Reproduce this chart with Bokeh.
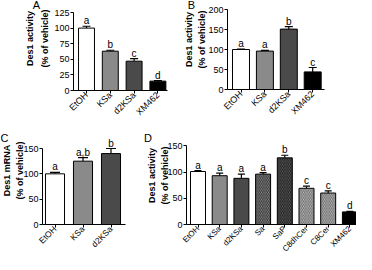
import math
from bokeh.plotting import figure
from bokeh.layouts import column, row
from bokeh.models import (ColumnDataSource, Whisker, TeeHead, Label, LabelSet,
                          FixedTicker, Range1d, LinearAxis)
from bokeh.core.properties import value
from bokeh.embed import file_html
from bokeh.resources import INLINE

FONT = "Liberation Sans"

# ---- data ----
a_cats = ["EtOH", "KSa", "d2KSa", "XM462"]
a_vals = [100, 63, 47, 15]
a_errs = [3, 1.5, 4, 1]
a_sig = ["a", "b", "c", "d"]

b_cats = ["EtOH", "KSa", "d2KSa", "XM462"]
b_vals = [100, 96, 151, 44]
b_errs = [1, 2, 6, 11]
b_sig = ["a", "a", "b", "c"]

c_cats = ["EtOH", "KSa", "d2KSa"]
c_vals = [100, 125, 140]
c_errs = [3, 7, 10]
c_sig = ["a", "a,b", "b"]

d_cats = ["EtOH", "KSa", "d2KSa", "Sa", "SaP", "C8dhCer", "C8Cer", "XM462"]
d_vals = [101, 93, 88, 96, 127, 69, 60, 24]
d_errs = [1.5, 5, 8, 3, 5, 4, 4, 1]
d_sig = ["a", "a", "a", "a", "b", "c", "c", "d"]

a_yticks = [0, 25, 50, 75, 100, 125]
b_yticks = [0, 50, 100, 150, 200]
c_yticks = [0, 50, 100, 150]
d_yticks = [0, 50, 100, 150]

ylab_activity = ["Des1 activity", "(% of vehicle)"]
ylab_mrna = ["Des1 mRNA", "(% of vehicle)"]

# ---- styles ----
base_fill = {"EtOH": "white", "KSa": "#8a8a8a", "d2KSa": "#4a4a4a", "XM462": "black",
             "Sa": "#9a9a9a", "SaP": "#6a6a6a", "C8dhCer": "#c8c8c8", "C8Cer": "#c8c8c8"}
hatch_pat = {"Sa": "\\", "SaP": "\\", "C8dhCer": "\\", "C8Cer": "\\"}
hatch_col = {"Sa": "#303030", "SaP": "#1a1a1a", "C8dhCer": "#6a6a6a", "C8Cer": "#6a6a6a"}


def panel(cats, vals, errs, sig, origin, w, h, axis_px, zero_py, top_py, yticks,
          c0_px, step_px, xend_px, bar_frac, cap, letter, letter_px, ylab, ylab_px,
          xlab_size="9px"):
    """All pixel positions are page (reference) pixels; origin = figure top-left."""
    ox, oy = origin
    ymax = yticks[-1]
    k = (zero_py - top_py) / ymax          # px per unit
    zl = zero_py - oy                       # local py of y=0
    c0 = c0_px - ox
    xr = Range1d((0 - c0) / step_px, (w - c0) / step_px)
    yr = Range1d((zl - h) / k, zl / k)
    p = figure(width=w, height=h, output_backend="svg", toolbar_location=None,
               x_range=xr, y_range=yr, x_axis_location=None, y_axis_location=None,
               min_border_left=0, min_border_right=0, min_border_top=0,
               min_border_bottom=0)
    p.outline_line_color = None
    p.grid.visible = False
    p.background_fill_color = "white"
    p.border_fill_color = "white"

    x = list(range(len(cats)))
    upper = [v + e for v, e in zip(vals, errs)]
    src = ColumnDataSource(dict(
        x=x, top=vals, upper=upper, sig=sig,
        fill=[base_fill[c] for c in cats],
        hatch=[hatch_pat.get(c, " ") for c in cats],
        hcol=[hatch_col.get(c, "black") for c in cats]))
    p.vbar(x="x", top="top", bottom=0, width=bar_frac, source=src,
           fill_color="fill", line_color="black", line_width=1,
           hatch_pattern="hatch", hatch_color="hcol", hatch_scale=3.5,
           hatch_weight=1)
    p.add_layout(Whisker(base="x", lower="top", upper="upper", source=src,
                         line_color="black", line_width=1.2,
                         upper_head=TeeHead(size=cap, line_color="black", line_width=1.2),
                         lower_head=None))
    p.add_layout(LabelSet(x="x", y="upper", text="sig", source=src,
                          text_align="center", text_baseline="bottom", y_offset=0,
                          text_font=value(FONT), text_font_size="10px",
                          text_color="black"))

    y_axis_x = (axis_px - c0_px) / step_px
    x_end = (xend_px - c0_px) / step_px
    xa = LinearAxis(fixed_location=0, bounds=(y_axis_x, x_end),
                    ticker=FixedTicker(ticks=x),
                    major_label_overrides={i: c for i, c in enumerate(cats)},
                    major_label_orientation=math.pi / 4)
    ya = LinearAxis(fixed_location=y_axis_x, bounds=(0, ymax),
                    ticker=FixedTicker(ticks=yticks))
    for ax in (xa, ya):
        ax.axis_line_color = "black"
        ax.axis_line_width = 1
        ax.major_tick_line_color = "black"
        ax.major_tick_out = 3
        ax.major_tick_in = 0
        ax.minor_tick_line_color = None
        ax.major_label_text_font = FONT
        ax.major_label_text_font_size = "9px"
        ax.major_label_text_color = "black"
        ax.major_label_standoff = 1
    xa.major_label_text_font_size = xlab_size
    xa.major_label_standoff = 0
    p.add_layout(xa, "below")
    p.add_layout(ya, "left")

    # panel letter and y-axis title (screen units: from figure left / bottom)
    p.add_layout(Label(x=letter_px[0] - ox, y=h - (letter_px[1] - oy),
                       x_units="screen", y_units="screen",
                       text=letter, text_align="center", text_baseline="middle",
                       text_font=FONT, text_font_size="11px", text_color="black"))
    for txt, (lx, ly) in zip(ylab, ylab_px):
        p.add_layout(Label(x=lx - ox, y=h - (ly - oy), x_units="screen", y_units="screen",
                           text=txt, angle=math.pi / 2, text_align="center",
                           text_baseline="middle", text_font=FONT,
                           text_font_size="9px", text_font_style="bold",
                           text_color="black"))
    return p


pA = panel(a_cats, a_vals, a_errs, a_sig, (8, 8), 178, 123,
           81, 98, 20, a_yticks, 94, 23.8, 175, 0.67, 8,
           "A", (44, 12), ylab_activity, [(37.5, 46), (52.5, 46)])
pB = panel(b_cats, b_vals, b_errs, b_sig, (186, 8), 178, 123,
           235, 97, 17, b_yticks, 248.5, 23.9, 332, 0.71, 8,
           "B", (199, 12), ylab_activity, [(196.5, 47), (209.5, 47)])
pC = panel(c_cats, c_vals, c_errs, c_sig, (8, 131), 142, 131,
           50, 232, 156, c_yticks, 62.5, 28, 133, 0.68, 10,
           "C", (12, 145), ylab_mrna, [(14, 178), (27, 178)], xlab_size="8.5px")
pD = panel(d_cats, d_vals, d_errs, d_sig, (150, 131), 214, 131,
           194, 232, 153.3, d_yticks, 205.5, 21.7, 364, 0.69, 7,
           "D", (155.5, 145.5), ylab_activity, [(159, 183), (172, 183)],
           xlab_size="8px")

layout = column(row(pA, pB), row(pC, pD))
open("out.html", "w").write(file_html(layout, INLINE))
